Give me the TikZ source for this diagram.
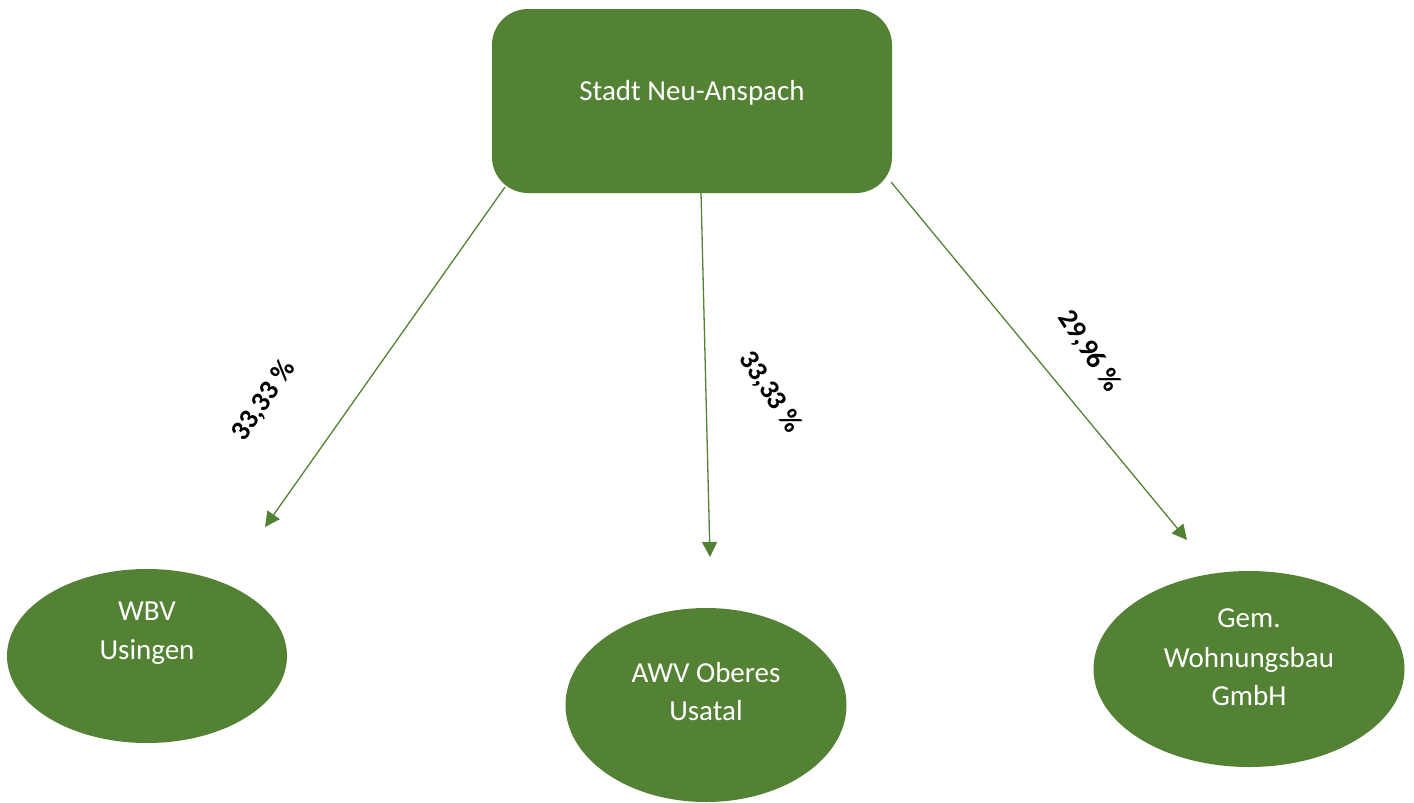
\documentclass[tikz,border=0pt]{standalone}
\usepackage{fontspec}
\setmainfont{Carlito}
\usetikzlibrary{arrows.meta,shapes.geometric}
\definecolor{ogreen}{RGB}{84,130,53}
\begin{document}
\begin{tikzpicture}[x=1pt,y=-1pt,
  boxshape/.style={draw=none,fill=ogreen,rounded corners=36pt,minimum width=400pt,minimum height=184pt,inner sep=0pt},
  ellshape/.style={draw=none,fill=ogreen,ellipse,inner sep=0pt},
  wtext/.style={text=white,font=\fontsize{29}{35}\selectfont,anchor=base,inner sep=0pt},
  pct/.style={text=black,font=\fontsize{28}{34}\selectfont\bfseries,inner sep=0pt},
  conn/.style={draw=ogreen,line width=1.3pt,-{Triangle[length=15pt,width=15pt]}}]
\useasboundingbox (0,0) rectangle (1414,803);
% shapes
\node[boxshape] (top) at (692,101) {};
\node[ellshape,minimum width=280pt,minimum height=174pt] (wbv) at (147,656) {};
\node[ellshape,minimum width=281pt,minimum height=194pt] (awv) at (706,705) {};
\node[ellshape,minimum width=311pt,minimum height=196pt] (gem) at (1249,669) {};
% texts
\node[wtext] (ttop) at (692,100) {Stadt Neu-Anspach};
\node[wtext] (twbv1) at (147,620) {WBV};
\node[wtext] (twbv2) at (147,659) {Usingen};
\node[wtext] (tawv1) at (706,682) {AWV Oberes};
\node[wtext] (tawv2) at (706,720) {Usatal};
\node[wtext] (tgem1) at (1249,627) {Gem.};
\node[wtext] (tgem2) at (1249,667) {Wohnungsbau};
\node[wtext] (tgem3) at (1249,705) {GmbH};
% connector ends
\coordinate (s1) at (505,187);
\coordinate (e1) at (265,527);
\coordinate (s2) at (701,193);
\coordinate (e2) at (710,557);
\coordinate (s3) at (891,182);
\coordinate (e3) at (1187,540);
\draw[conn] (s1) -- (e1);
\draw[conn] (s2) -- (e2);
\draw[conn] (s3) -- (e3);
% labels
\node[pct,rotate=55] (l1) at (264,401) {33,33 \%};
\node[pct,rotate=-57] (l2) at (770,392) {33,33 \%};
\node[pct,rotate=-57] (l3) at (1089,351) {29,96 \%};
\end{tikzpicture}
\end{document}
